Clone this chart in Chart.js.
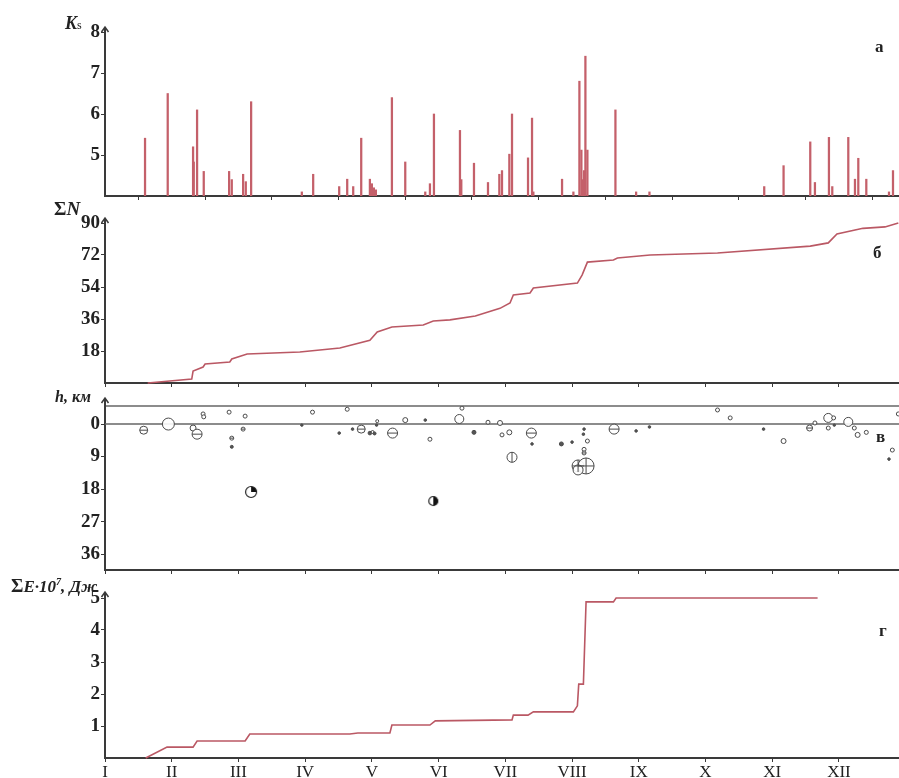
<!DOCTYPE html>
<html>
<head>
<meta charset="utf-8">
<script src="https://cdn.jsdelivr.net/npm/chart.js@4.4.0/dist/chart.umd.min.js"></script>
<style>
  html, body { margin: 0; padding: 0; background: #fff; }
  #wrap { position: relative; width: 899px; height: 778px; overflow: hidden;
          font-family: 'Liberation Serif', 'Times New Roman', serif; color: #222; }
  #wrap canvas { position: absolute; left: 0; }
  .lbl { position: absolute; font-weight: bold; white-space: nowrap; line-height: 1; }
  .lbl i { font-style: italic; }
</style>
</head>
<body>
<div id="wrap">
  <canvas id="ksChart" width="899" height="190" style="top:10px"></canvas>
  <canvas id="cumChart" width="899" height="182" style="top:205px"></canvas>
  <canvas id="depthChart" width="899" height="182" style="top:392px"></canvas>
  <canvas id="energyChart" width="899" height="192" style="top:588px"></canvas>

  <div class="lbl" style="left:65px;top:14px;font-size:18px"><i>K</i><span style="font-size:12px;font-weight:normal">s</span></div>
  <div class="lbl" style="left:54px;top:199px;font-size:19px">&Sigma;<i>N</i></div>
  <div class="lbl" style="left:55px;top:389px;font-size:16px"><i>h, км</i></div>
  <div class="lbl" style="left:11px;top:576px;font-size:19px">&Sigma;<i style="font-size:17px">E&middot;10<sup style="font-size:10px">7</sup>, Дж</i></div>

  <div class="lbl" style="left:875px;top:38px;font-size:17px">а</div>
  <div class="lbl" style="left:873px;top:244px;font-size:17px">б</div>
  <div class="lbl" style="left:876px;top:428px;font-size:17px">в</div>
  <div class="lbl" style="left:879px;top:622px;font-size:17px">г</div>
</div>

<script>
/* ---------- data (x in months from 1 January) ---------- */

const monthLabels = ['I', 'II', 'III', 'IV', 'V', 'VI', 'VII', 'VIII', 'IX', 'X', 'XI', 'XII'];
const monthTicks = [0, 1, 2, 3, 4, 5, 6, 7, 8, 9, 10, 11];

// а: energy class Ks of individual events
const ksMonth = [0.60, 0.94, 1.32, 1.33, 1.38, 1.48, 1.86, 1.90, 2.07, 2.11, 2.19, 2.95, 3.12, 3.51, 3.63,
                 3.72, 3.84, 3.97, 4.00, 4.03, 4.06, 4.30, 4.50, 4.80, 4.87, 4.93, 5.32, 5.34, 5.53, 5.74,
                 5.91, 5.95, 6.06, 6.10, 6.34, 6.40, 6.42, 6.85, 7.02, 7.11, 7.14, 7.15, 7.18, 7.20, 7.23,
                 7.65, 7.96, 8.16, 9.88, 10.17, 10.57, 10.64, 10.85, 10.90, 11.14, 11.24, 11.29, 11.41, 11.75, 11.81];
const ksValue = [5.41, 6.5, 5.2, 4.83, 6.1, 4.6, 4.6, 4.4, 4.53, 4.35, 6.3, 4.1, 4.53, 4.23, 4.41,
                 4.23, 5.41, 4.41, 4.3, 4.2, 4.15, 6.4, 4.83, 4.1, 4.3, 6.0, 5.6, 4.4, 4.8, 4.33,
                 4.53, 4.62, 5.02, 6.0, 4.93, 5.9, 4.1, 4.41, 4.1, 6.8, 5.12, 4.4, 4.62, 7.41, 5.12,
                 6.1, 4.1, 4.1, 4.23, 4.74, 5.32, 4.33, 5.43, 4.23, 5.43, 4.41, 4.92, 4.41, 4.1, 4.62];
const ksTicks = [5, 6, 7, 8];

// б: cumulative number of events
const cumMonth = [0.64, 1.30, 1.32, 1.47, 1.50, 1.87, 1.90, 2.13, 2.92, 3.52, 3.97, 4.08, 4.30, 4.77, 4.92,
                  5.17, 5.55, 5.92, 6.07, 6.12, 6.37, 6.42, 7.08, 7.15, 7.23, 7.62, 7.68, 8.17, 9.18,
                  10.57, 10.84, 10.97, 11.36, 11.69, 11.89];
const cumValue = [0, 2.2, 6.7, 9, 10.7, 11.8, 13.5, 16.3, 17.4, 19.7, 24, 28.7, 31.5, 32.6, 34.9,
                  35.5, 37.7, 42, 45, 49.5, 50.6, 53.4, 56.2, 60.7, 68, 69.2, 70.3, 72, 73.1,
                  77, 78.8, 83.8, 87, 87.8, 90];
const cumTicks = [18, 36, 54, 72, 90];

// в: hypocentre depth, symbol radius and symbol kind
// kinds: o open, . filled, - barred, | split, + crossed, q quarter filled, h half filled
const hypoMonth = [0.58, 0.95, 1.32, 1.38, 1.47, 1.48, 1.86, 1.90, 1.90, 2.10, 2.07, 2.19, 2.95, 3.11, 3.51,
                   3.63, 3.71, 3.84, 3.97, 4.01, 4.04, 4.08, 4.07, 4.31, 4.50, 4.80, 4.87, 4.92, 5.35, 5.31,
                   5.53, 5.74, 5.92, 5.95, 6.06, 6.39, 6.40, 6.10, 6.84, 7.00, 7.18, 7.17, 7.23, 7.18, 7.18,
                   7.09, 7.21, 7.09, 7.63, 7.96, 8.16, 9.18, 9.37, 9.87, 10.17, 10.56, 10.64, 10.84, 10.84,
                   10.92, 10.93, 11.14, 11.23, 11.28, 11.41, 11.80, 11.75, 11.89];
const hypoDepth = [1.7, 0, 1.1, 2.8, -2.8, -2.0, -3.3, 3.9, 6.3, -2.2, 1.4, 18.8, 0.3, -3.3, 2.5,
                   -4.1, 1.4, 1.4, 2.5, 2.2, 2.6, -0.8, 0.3, 2.5, -1.1, -1.1, 4.2, 21.3, -4.4, -1.4,
                   2.3, -0.5, -0.3, 3.0, 2.3, 2.5, 5.5, 9.2, 5.5, 5.0, 1.4, 2.8, 4.7, 7.0, 8.0,
                   11.6, 11.6, 12.7, 1.4, 1.9, 0.8, -3.9, -1.7, 1.4, 4.7, 1.1, -0.3, -1.7, 1.1,
                   -1.7, 0.3, -0.6, 1.1, 3.0, 2.3, 7.2, 9.7, -2.8];
const hypoSize = [4, 6, 3, 5, 2, 2, 2, 2, 1.5, 2, 2, 5.5, 1.2, 2, 1.3,
                  2, 1.3, 4, 1.8, 1.5, 1.5, 1.5, 1.2, 5, 2.5, 1.3, 2, 4.5, 2, 4.5,
                  2, 2, 2.5, 2, 2.5, 5, 1.3, 5, 2, 1.3, 1.3, 1.3, 2, 2, 2,
                  6, 8, 5, 5, 1.3, 1.3, 2, 2, 1.3, 2.5, 3, 2, 4.5, 2,
                  2, 1.2, 4.5, 2, 2.5, 2, 2, 1.3, 2];
const hypoKind = ['-', 'o', 'o', '-', 'o', 'o', 'o', '-', '.', 'o', '-', 'q', '.', 'o', '.',
                  'o', '.', '-', '.', 'o', '.', 'o', '.', '-', 'o', '.', 'o', 'h', 'o', 'o',
                  '.', 'o', 'o', 'o', 'o', '-', '.', '|', '.', '.', '.', '.', 'o', 'o', '-',
                  '+', '+', 'o', '-', '.', '.', 'o', 'o', '.', 'o', '-', 'o', 'o', 'o',
                  'o', '.', 'o', 'o', 'o', 'o', 'o', '.', 'o'];
const depthTicks = [0, 9, 18, 27, 36];

// г: cumulative seismic energy, 10^7 J
const energyMonth = [0.61, 0.93, 1.32, 1.38, 2.10, 2.17, 3.67, 3.79, 4.27, 4.30, 4.87, 4.95, 6.10, 6.12,
                     6.34, 6.42, 7.02, 7.08, 7.10, 7.17, 7.21, 7.62, 7.66, 10.68];
const energyValue = [0, 0.34, 0.34, 0.53, 0.53, 0.75, 0.75, 0.78, 0.78, 1.03, 1.03, 1.16, 1.19, 1.34,
                     1.34, 1.44, 1.44, 1.63, 2.31, 2.31, 4.88, 4.88, 5.0, 5.0];
const energyTicks = [1, 2, 3, 4, 5];

/* ---------- shared styling ---------- */

const SERIF = "'Liberation Serif', 'Times New Roman', serif";
const AXIS = '#3a3a3a';
const RED = 'rgb(186, 88, 100)';
const BAR = 'rgb(196, 96, 106)';
const INK = '#4a4a4a';
const X_MAX = 11.9;

Chart.defaults.font.family = SERIF;
Chart.defaults.color = '#222';

function xAxis(showLabels) {
    return {
        type: 'linear', min: 0, max: X_MAX, offset: false,
        afterBuildTicks: s => { s.ticks = monthTicks.map(v => ({ value: v })); },
        afterFit: s => { s.height = showLabels ? 22 : 4; s.paddingLeft = 0; s.paddingRight = 0; },
        border: { color: AXIS, width: 2 },
        grid: { drawOnChartArea: false, tickLength: 4, color: AXIS },
        ticks: {
            display: showLabels, autoSkip: false, maxRotation: 0, padding: 0,
            font: { size: 17 }, callback: v => monthLabels[v]
        }
    };
}

function yAxis(min, max, ticks, reverse) {
    return {
        type: 'linear', min, max, reverse: !!reverse,
        afterBuildTicks: s => { s.ticks = ticks.map(v => ({ value: v })); },
        // fixed gutter, and no extra room reserved for half tick labels
        afterFit: s => { s.width = 105; s.paddingTop = 0; s.paddingBottom = 0; },
        border: { color: AXIS, width: 2 },
        grid: { drawOnChartArea: false, tickLength: 4, color: AXIS },
        ticks: { padding: 1, font: { size: 19, weight: 'bold' } }
    };
}

// y axis continues above the plot and ends in an arrow
const axisArrow = {
    id: 'axisArrow',
    afterDraw(chart, args, opts) {
        const { ctx, chartArea: a } = chart;
        const x = a.left, tip = a.top - opts.ext;
        ctx.save();
        ctx.strokeStyle = AXIS;
        ctx.lineWidth = 2;
        ctx.beginPath(); ctx.moveTo(x, a.top + 1); ctx.lineTo(x, tip); ctx.stroke();
        ctx.lineWidth = 1.5;
        ctx.beginPath(); ctx.moveTo(x - 3.5, tip + 5); ctx.lineTo(x, tip); ctx.lineTo(x + 3.5, tip + 5); ctx.stroke();
        ctx.restore();
    }
};

// frame line at the top of the depth panel and the zero-depth line
const depthLines = {
    id: 'depthLines',
    beforeDatasetsDraw(chart) {
        const { ctx, chartArea: a, scales } = chart;
        const y0 = scales.y.getPixelForValue(0);
        ctx.save();
        ctx.strokeStyle = '#666';
        ctx.lineWidth = 1.5;
        [a.top, y0].forEach(y => {
            ctx.beginPath(); ctx.moveTo(a.left, y); ctx.lineTo(a.right, y); ctx.stroke();
        });
        ctx.restore();
    }
};

function baseOptions(padTop, arrowExt, showLabels, y) {
    return {
        responsive: false, animation: false,
        layout: { autoPadding: false, padding: { top: padTop, left: 0, right: 0, bottom: 0 } },
        scales: { x: xAxis(showLabels), y },
        plugins: { legend: { display: false }, tooltip: { enabled: false }, axisArrow: { ext: arrowExt } }
    };
}

// disc with a filled sector, used for the mechanism-like symbols
function sectorDisc(r, a0, a1) {
    const c = document.createElement('canvas');
    const s = Math.ceil(r * 2 + 3);
    c.width = s; c.height = s;
    const g = c.getContext('2d');
    const m = s / 2;
    g.fillStyle = '#fff';
    g.beginPath(); g.arc(m, m, r, 0, Math.PI * 2); g.fill();
    g.fillStyle = '#111';
    g.beginPath(); g.moveTo(m, m); g.arc(m, m, r, a0, a1); g.closePath(); g.fill();
    g.strokeStyle = '#222'; g.lineWidth = 1.2;
    g.beginPath(); g.arc(m, m, r, 0, Math.PI * 2); g.stroke();
    return c;
}

/* ---------- а ---------- */
new Chart(document.getElementById('ksChart'), {
    type: 'bar',
    data: {
        datasets: [{
            data: ksMonth.map((m, i) => ({ x: m, y: [4, ksValue[i]] })),
            backgroundColor: BAR,
            barThickness: 1.6,
            grouped: false
        }]
    },
    options: baseOptions(22, 5, false, yAxis(4, 8, ksTicks)),
    plugins: [axisArrow]
});

/* ---------- б ---------- */
new Chart(document.getElementById('cumChart'), {
    type: 'line',
    data: {
        datasets: [{
            data: cumMonth.map((m, i) => ({ x: m, y: cumValue[i] })),
            borderColor: RED, borderWidth: 1.6, pointRadius: 0, tension: 0, fill: false, clip: 4
        }]
    },
    options: baseOptions(18, 5, false, yAxis(0, 90, cumTicks)),
    plugins: [axisArrow]
});

/* ---------- в ---------- */
const idx = hypoMonth.map((m, i) => i);
const pt = i => ({ x: hypoMonth[i], y: hypoDepth[i] });
const plain = idx.filter(i => hypoKind[i] !== 'q' && hypoKind[i] !== 'h');
const barred = idx.filter(i => hypoKind[i] === '-');
const split = idx.filter(i => hypoKind[i] === '|');
const crossed = idx.filter(i => hypoKind[i] === '+');
const sectors = idx.filter(i => hypoKind[i] === 'q' || hypoKind[i] === 'h');

// higher order is drawn first, so the plain discs sit under the bar / cross marks
new Chart(document.getElementById('depthChart'), {
    type: 'scatter',
    data: {
        datasets: [
            {
                order: 5,
                data: plain.map(pt),
                pointRadius: plain.map(i => hypoSize[i]),
                pointBackgroundColor: plain.map(i => hypoKind[i] === '.' ? '#555' : 'rgba(255,255,255,0.9)'),
                pointBorderColor: INK, pointBorderWidth: 1
            },
            {
                order: 1,
                data: barred.map(pt), pointStyle: 'line', pointRotation: 0,
                pointRadius: barred.map(i => hypoSize[i]), pointBorderColor: INK, pointBorderWidth: 1
            },
            {
                order: 1,
                data: split.map(pt), pointStyle: 'line', pointRotation: 90,
                pointRadius: split.map(i => hypoSize[i]), pointBorderColor: INK, pointBorderWidth: 1
            },
            {
                order: 1,
                data: crossed.map(pt), pointStyle: 'cross',
                pointRadius: crossed.map(i => hypoSize[i]), pointBorderColor: INK, pointBorderWidth: 1
            },
            {
                order: 1,
                data: sectors.map(pt),
                pointStyle: sectors.map(i => hypoKind[i] === 'q'
                    ? sectorDisc(hypoSize[i], -Math.PI / 2, 0)
                    : sectorDisc(hypoSize[i], -Math.PI / 2, Math.PI / 2)),
                pointRadius: sectors.map(i => hypoSize[i])
            }
        ]
    },
    options: baseOptions(14, 8, false, yAxis(-5, 40.4, depthTicks, true)),
    plugins: [depthLines, axisArrow]
});

/* ---------- г ---------- */
new Chart(document.getElementById('energyChart'), {
    type: 'line',
    data: {
        datasets: [{
            data: energyMonth.map((m, i) => ({ x: m, y: energyValue[i] })),
            borderColor: RED, borderWidth: 1.6, pointRadius: 0, tension: 0, fill: false, clip: 4
        }]
    },
    options: baseOptions(10, 6, true, yAxis(0, 5, energyTicks)),
    plugins: [axisArrow]
});
</script>
</body>
</html>
